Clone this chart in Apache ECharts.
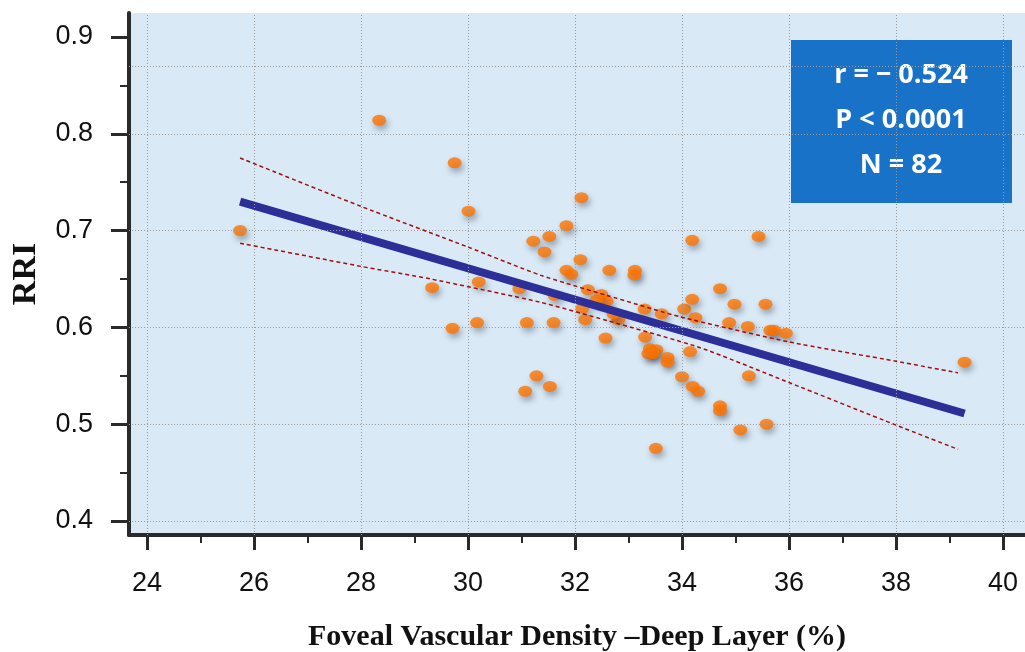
<!DOCTYPE html>
<html>
<head>
<meta charset="utf-8">
<script src="https://cdn.jsdelivr.net/npm/echarts@6/dist/echarts.min.js"></script>
<style>
  html, body { margin: 0; padding: 0; background: #fff; }
  #chart { width: 1025px; height: 652px; }
</style>
</head>
<body>
<div id="chart"></div>
<script>
// foveal vascular density, deep layer (%) and RRI
const fvd = [28.34, 29.75, 30.01, 25.74, 30.2, 29.33, 32.12, 31.84, 31.22, 31.52,
  31.43, 32.1, 31.84, 31.93, 32.64, 33.12, 33.11, 30.96, 32.24, 31.62,
  32.49, 32.59, 32.14, 32.19, 32.81, 33.3, 33.62, 34.04, 34.19, 34.19,
  35.43, 34.71, 34.98, 35.56, 34.25, 34.88, 35.23, 35.65, 35.72, 35.94,
  29.71, 30.17, 31.1, 31.6, 32.57, 33.31, 33.4, 33.52, 33.37, 33.46,
  33.73, 33.73, 34.15, 34.0, 34.2, 34.3, 35.25, 34.71, 34.71, 35.09,
  35.58, 33.51, 31.28, 31.07, 31.53, 39.28, 32.72, 32.4];
const rri = [0.814, 0.770, 0.720, 0.700, 0.647, 0.641, 0.734, 0.705, 0.689, 0.694,
  0.678, 0.670, 0.659, 0.655, 0.659, 0.659, 0.654, 0.640, 0.639, 0.633,
  0.634, 0.627, 0.620, 0.608, 0.608, 0.619, 0.614, 0.619, 0.629, 0.690,
  0.694, 0.640, 0.624, 0.624, 0.610, 0.605, 0.601, 0.597, 0.597, 0.594,
  0.599, 0.605, 0.605, 0.605, 0.589, 0.590, 0.578, 0.577, 0.573, 0.573,
  0.569, 0.564, 0.575, 0.549, 0.539, 0.534, 0.550, 0.519, 0.514, 0.494,
  0.500, 0.475, 0.550, 0.534, 0.539, 0.564, 0.614, 0.628];

const fitLine = [[25.74, 0.730], [39.28, 0.511]];
const ciUpper = [[25.74, 0.775], [28.0, 0.725], [30.0, 0.683], [31.35, 0.654], [32.6, 0.633],
  [33.96, 0.611], [36.0, 0.585], [38.0, 0.565], [39.16, 0.553]];
const ciLower = [[25.74, 0.687], [28.0, 0.663], [29.3, 0.650], [31.35, 0.626], [32.6, 0.607],
  [34.34, 0.579], [36.0, 0.543], [38.0, 0.499], [39.16, 0.474]];

const xMajor = [24, 26, 28, 30, 32, 34, 36, 38, 40];
const xMinor = [25, 27, 29, 31, 33, 35, 37, 39];
const yMajor = [0.4, 0.5, 0.6, 0.7, 0.8, 0.9];
const yMinor = [0.45, 0.55, 0.65, 0.75, 0.85];
const xGrid = [24, 26, 28, 30, 32, 34, 36, 38, 40];
const yGrid = [0.4, 0.5, 0.6, 0.7, 0.8, 0.872];

const statLines = ['r = \u2212 0.524', 'P < 0.0001', 'N = 82'];

const axisColor = '#2a2a2a';
const xMin = 23.664, xMax = 40.41, yMin = 0.3855, yMax = 0.9248;

const chart = echarts.init(document.getElementById('chart'), null, { renderer: 'canvas' });

const gridLine = { color: '#9a9a9a', width: 1, type: [1, 2] };

chart.setOption({
  animation: false,
  grid: {
    left: 129, right: 0, top: 13, bottom: 117, outerBoundsMode: 'none',
    show: true, backgroundColor: '#d9eaf6', borderWidth: 0
  },
  xAxis: [{
    type: 'value', min: xMin, max: xMax, position: 'bottom',
    name: 'Foveal Vascular Density \u2013Deep Layer (%)',
    nameLocation: 'middle', nameGap: 87,
    nameTextStyle: { fontFamily: 'Liberation Serif', fontWeight: 'bold', fontSize: 30, color: '#111' },
    axisLine: { onZero: false, lineStyle: { color: axisColor, width: 4 } },
    axisTick: { customValues: xMajor, length: 15, lineStyle: { color: axisColor, width: 3 } },
    axisLabel: { customValues: xMajor, margin: 35, fontSize: 27, color: '#111', fontFamily: 'Liberation Sans' },
    splitLine: { show: false }
  }, {
    type: 'value', min: xMin, max: xMax, position: 'bottom',
    axisLine: { show: false },
    axisTick: { customValues: xMinor, length: 8, lineStyle: { color: axisColor, width: 2 } },
    axisLabel: { show: false },
    splitLine: { show: false }
  }],
  yAxis: [{
    type: 'value', min: yMin, max: yMax, position: 'left',
    name: 'RRI', nameLocation: 'middle', nameGap: 86, nameRotate: 90,
    nameTextStyle: { fontFamily: 'Liberation Serif', fontWeight: 'bold', fontSize: 34, color: '#111' },
    axisLine: { onZero: false, lineStyle: { color: axisColor, width: 4 } },
    axisTick: { customValues: yMajor, length: 18, lineStyle: { color: axisColor, width: 3 } },
    axisLabel: { customValues: yMajor, margin: 36, fontSize: 27, color: '#111', fontFamily: 'Liberation Sans' },
    splitLine: { show: false }
  }, {
    type: 'value', min: yMin, max: yMax, position: 'left',
    axisLine: { show: false },
    axisTick: { customValues: yMinor, length: 9, lineStyle: { color: axisColor, width: 2 } },
    axisLabel: { show: false },
    splitLine: { show: false }
  }],
  series: [{
    // dotted grid
    type: 'scatter', data: [], z: 1, silent: true,
    markLine: {
      silent: true, symbol: 'none', animation: false,
      label: { show: false },
      lineStyle: gridLine,
      data: xGrid.map(v => ({ xAxis: v })).concat(yGrid.map(v => ({ yAxis: v })))
    }
  }, {
    type: 'scatter', z: 3,
    data: fvd.map((x, i) => [x, rri[i]]),
    symbol: 'circle', symbolSize: [14, 11],
    itemStyle: {
      color: '#ff7400',
      shadowBlur: 6, shadowColor: 'rgba(30,30,50,0.45)', shadowOffsetX: 2, shadowOffsetY: 4
    }
  }, {
    type: 'line', z: 4, data: fitLine, symbol: 'none',
    lineStyle: { color: '#2e2e99', width: 8, cap: 'butt' }
  }, {
    type: 'line', z: 5, data: ciUpper, symbol: 'none', smooth: 0.2,
    lineStyle: { color: '#a30d0d', width: 1.5, type: [4, 3] }
  }, {
    type: 'line', z: 5, data: ciLower, symbol: 'none', smooth: 0.2,
    lineStyle: { color: '#a30d0d', width: 1.5, type: [4, 3] }
  }],
  graphic: [{
    type: 'group', left: 791, top: 40, z: 10,
    children: [{
      type: 'rect', shape: { x: 0, y: 0, width: 221, height: 163 },
      style: { fill: '#1873c8' }
    }].concat(statLines.map((t, i) => ({
      type: 'text', x: 110, y: 35 + i * 45,
      style: {
        text: t, fill: '#fff', font: 'bold 27px "Open Sans"',
        textAlign: 'center', textVerticalAlign: 'middle'
      }
    })))
  }]
});
</script>
</body>
</html>
